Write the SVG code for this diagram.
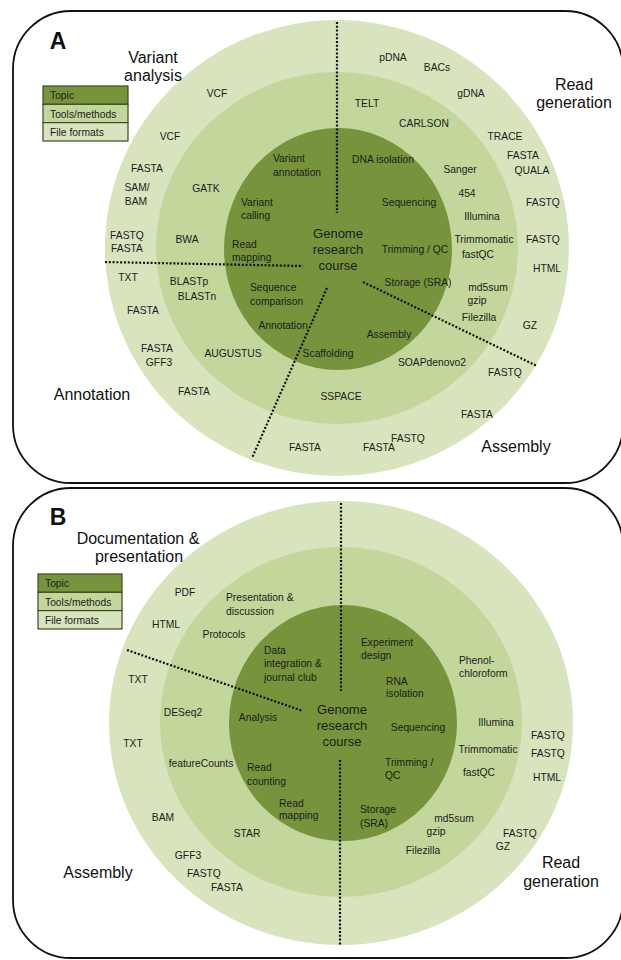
<svg xmlns="http://www.w3.org/2000/svg" width="621" height="960" viewBox="0 0 621 960">
<style>
.frame{fill:#ffffff;stroke:#111;stroke-width:1.8}
.r1{fill:#d7e4bd}
.r2{fill:#c3d69b}
.r3{fill:#77933c}
.t{font-family:"Liberation Sans",Arial,sans-serif;font-size:10.3px;fill:#1c1c1c;text-anchor:middle}
.l{text-anchor:start}
.c{font-family:"Liberation Sans",Arial,sans-serif;font-size:13px;fill:#1c1c1c;text-anchor:middle}
.big{font-family:"Liberation Sans",Arial,sans-serif;font-size:16px;fill:#111;text-anchor:middle}
.pl{font-family:"Liberation Sans",Arial,sans-serif;font-size:23px;font-weight:bold;fill:#111;text-anchor:middle}
.lg{stroke:#3d4a26;stroke-width:1.2}
.dot{fill:none;stroke:#111;stroke-width:2.2;stroke-dasharray:2 1.8}
</style>

<!-- ================= PANEL A ================= -->
<g id="panelA">
<rect id="frameA" class="frame" x="13" y="11" width="610" height="472" rx="58" ry="58"/>
<g id="ringsA">
<ellipse class="r1" cx="337" cy="248" rx="232" ry="228"/>
<ellipse class="r2" cx="337" cy="248" rx="181" ry="176"/>
<ellipse class="r3" cx="338" cy="249" rx="114" ry="121"/>
</g>
<g id="connectorsA">
<line class="dot" x1="337" y1="22" x2="337" y2="213"/>
<line class="dot" x1="105" y1="262" x2="303" y2="266"/>
<line class="dot" x1="363" y1="282" x2="537" y2="366"/>
<line class="dot" x1="327" y1="288" x2="252" y2="458"/>
</g>
<g id="labelA"><text class="pl" x="58" y="49">A</text></g>
<g id="legendA">
<rect class="lg r3" x="43" y="86" width="85" height="18.3"/>
<rect class="lg r2" x="43" y="104.3" width="85" height="18.3"/>
<rect class="lg r1" x="43" y="122.6" width="85" height="18.4"/>
<text class="t l" x="50" y="99">Topic</text>
<text class="t l" x="50" y="117.5">Tools/methods</text>
<text class="t l" x="50" y="135.5">File formats</text>
</g>
<g id="sectorsA">
<g id="A-variant-analysis"><text class="big" x="153" y="63">Variant</text><text class="big" x="153" y="81">analysis</text></g>
<g id="A-read-generation"><text class="big" x="574" y="90">Read</text><text class="big" x="574" y="108">generation</text></g>
<g id="A-annotation"><text class="big" x="92" y="400">Annotation</text></g>
<g id="A-assembly"><text class="big" x="516" y="452">Assembly</text></g>
</g>
<g id="centerA"><text class="c" x="338" y="238">Genome</text><text class="c" x="338" y="254">research</text><text class="c" x="338" y="270">course</text></g>
<g id="topicsA">
<g id="A-t-varann"><text class="t l" x="273" y="162">Variant</text><text class="t l" x="273" y="176">annotation</text></g>
<g id="A-t-dnaiso"><text class="t" x="383" y="163">DNA isolation</text></g>
<g id="A-t-varcall"><text class="t l" x="241" y="206">Variant</text><text class="t l" x="241" y="219">calling</text></g>
<g id="A-t-seq"><text class="t" x="409" y="206">Sequencing</text></g>
<g id="A-t-readmap"><text class="t l" x="232" y="248">Read</text><text class="t l" x="232" y="261">mapping</text></g>
<g id="A-t-trim"><text class="t" x="415" y="253">Trimming / QC</text></g>
<g id="A-t-storage"><text class="t" x="418" y="286">Storage (SRA)</text></g>
<g id="A-t-seqcomp"><text class="t l" x="250" y="291">Sequence</text><text class="t l" x="250" y="305">comparison</text></g>
<g id="A-t-annot"><text class="t" x="283" y="329">Annotation</text></g>
<g id="A-t-assembly"><text class="t" x="389" y="338">Assembly</text></g>
<g id="A-t-scaff"><text class="t" x="328" y="357">Scaffolding</text></g>
</g>
<g id="toolsA">
<g id="A-m-telt"><text class="t" x="367" y="107">TELT</text></g>
<g id="A-m-carlson"><text class="t" x="424" y="127">CARLSON</text></g>
<g id="A-m-sanger"><text class="t" x="460" y="173">Sanger</text></g>
<g id="A-m-454"><text class="t" x="467" y="197">454</text></g>
<g id="A-m-illumina"><text class="t" x="482" y="220">Illumina</text></g>
<g id="A-m-trimmo"><text class="t" x="484" y="243">Trimmomatic</text><text class="t" x="478" y="258">fastQC</text></g>
<g id="A-m-md5"><text class="t" x="488" y="291">md5sum</text><text class="t" x="477" y="304">gzip</text><text class="t" x="479" y="321">Filezilla</text></g>
<g id="A-m-soap"><text class="t" x="432" y="366">SOAPdenovo2</text></g>
<g id="A-m-sspace"><text class="t" x="341" y="400">SSPACE</text></g>
<g id="A-m-augustus"><text class="t" x="233" y="357">AUGUSTUS</text></g>
<g id="A-m-blast"><text class="t" x="189" y="285">BLASTp</text><text class="t" x="197" y="300">BLASTn</text></g>
<g id="A-m-bwa"><text class="t" x="187" y="243">BWA</text></g>
<g id="A-m-gatk"><text class="t" x="206" y="192">GATK</text></g>
</g>
<g id="formatsA">
<g id="A-f-1"><text class="t" x="217" y="97">VCF</text></g>
<g id="A-f-2"><text class="t" x="170" y="140">VCF</text></g>
<g id="A-f-3"><text class="t" x="147" y="172">FASTA</text></g>
<g id="A-f-4"><text class="t" x="137" y="191">SAM/</text><text class="t" x="136" y="205">BAM</text></g>
<g id="A-f-5"><text class="t" x="127" y="239">FASTQ</text><text class="t" x="127" y="252">FASTA</text></g>
<g id="A-f-6"><text class="t" x="128" y="281">TXT</text></g>
<g id="A-f-7"><text class="t" x="143" y="314">FASTA</text></g>
<g id="A-f-8"><text class="t" x="157" y="352">FASTA</text><text class="t" x="159" y="366">GFF3</text></g>
<g id="A-f-9"><text class="t" x="194" y="395">FASTA</text></g>
<g id="A-f-10"><text class="t" x="305" y="451">FASTA</text></g>
<g id="A-f-11"><text class="t" x="379" y="451">FASTA</text></g>
<g id="A-f-12"><text class="t" x="408" y="442">FASTQ</text></g>
<g id="A-f-13"><text class="t" x="477" y="418">FASTA</text></g>
<g id="A-f-14"><text class="t" x="505" y="376">FASTQ</text></g>
<g id="A-f-15"><text class="t" x="530" y="329">GZ</text></g>
<g id="A-f-16"><text class="t" x="547" y="272">HTML</text></g>
<g id="A-f-17"><text class="t" x="543" y="243">FASTQ</text></g>
<g id="A-f-18"><text class="t" x="543" y="206">FASTQ</text></g>
<g id="A-f-19"><text class="t" x="523" y="159">FASTA</text><text class="t" x="532" y="174">QUALA</text></g>
<g id="A-f-20"><text class="t" x="505" y="140">TRACE</text></g>
<g id="A-f-21"><text class="t" x="471" y="97">gDNA</text></g>
<g id="A-f-22"><text class="t" x="437" y="71">BACs</text></g>
<g id="A-f-23"><text class="t" x="393" y="61">pDNA</text></g>
</g>
</g>

<!-- ================= PANEL B ================= -->
<g id="panelB">
<rect id="frameB" class="frame" x="13" y="488" width="610" height="470" rx="58" ry="58"/>
<g id="ringsB">
<ellipse class="r1" cx="341" cy="723" rx="232" ry="222"/>
<ellipse class="r2" cx="341" cy="722" rx="181" ry="175"/>
<ellipse class="r3" cx="343" cy="723" rx="114" ry="118"/>
</g>
<g id="connectorsB">
<line class="dot" x1="341" y1="503" x2="341" y2="691"/>
<line class="dot" x1="340" y1="760" x2="340" y2="945"/>
<line class="dot" x1="127" y1="650" x2="303" y2="711"/>
</g>
<g id="labelB"><text class="pl" x="58" y="525">B</text></g>
<g id="legendB">
<rect class="lg r3" x="38" y="574" width="84" height="18.3"/>
<rect class="lg r2" x="38" y="592.3" width="84" height="18.3"/>
<rect class="lg r1" x="38" y="610.6" width="84" height="18.4"/>
<text class="t l" x="45" y="587">Topic</text>
<text class="t l" x="45" y="605.5">Tools/methods</text>
<text class="t l" x="45" y="623.5">File formats</text>
</g>
<g id="sectorsB">
<g id="B-documentation"><text class="big" x="138" y="544">Documentation &amp;</text><text class="big" x="139" y="562">presentation</text></g>
<g id="B-assembly"><text class="big" x="98" y="878">Assembly</text></g>
<g id="B-read-generation"><text class="big" x="561" y="868">Read</text><text class="big" x="561" y="887">generation</text></g>
</g>
<g id="centerB"><text class="c" x="342" y="714">Genome</text><text class="c" x="342" y="730">research</text><text class="c" x="342" y="746">course</text></g>
<g id="topicsB">
<g id="B-t-data"><text class="t l" x="264" y="654">Data</text><text class="t l" x="264" y="667">integration &amp;</text><text class="t l" x="264" y="681">journal club</text></g>
<g id="B-t-exp"><text class="t l" x="361" y="646">Experiment</text><text class="t l" x="361" y="659">design</text></g>
<g id="B-t-rna"><text class="t l" x="386" y="685">RNA</text><text class="t l" x="386" y="697">isolation</text></g>
<g id="B-t-analysis"><text class="t" x="258" y="721">Analysis</text></g>
<g id="B-t-seq"><text class="t" x="418" y="731">Sequencing</text></g>
<g id="B-t-trim"><text class="t l" x="385" y="766">Trimming /</text><text class="t l" x="385" y="779">QC</text></g>
<g id="B-t-readcount"><text class="t l" x="247" y="771">Read</text><text class="t l" x="247" y="785">counting</text></g>
<g id="B-t-readmap"><text class="t l" x="279" y="807">Read</text><text class="t l" x="279" y="819">mapping</text></g>
<g id="B-t-storage"><text class="t l" x="360" y="813">Storage</text><text class="t l" x="360" y="827">(SRA)</text></g>
</g>
<g id="toolsB">
<g id="B-m-pres"><text class="t l" x="226" y="601">Presentation &amp;</text><text class="t l" x="226" y="615">discussion</text></g>
<g id="B-m-protocols"><text class="t" x="224" y="638">Protocols</text></g>
<g id="B-m-deseq"><text class="t" x="183" y="716">DESeq2</text></g>
<g id="B-m-fc"><text class="t" x="201" y="767">featureCounts</text></g>
<g id="B-m-star"><text class="t" x="247" y="837">STAR</text></g>
<g id="B-m-phenol"><text class="t l" x="459" y="664">Phenol-</text><text class="t l" x="459" y="677">chloroform</text></g>
<g id="B-m-illumina"><text class="t" x="496" y="726">Illumina</text></g>
<g id="B-m-trimmo"><text class="t" x="488" y="753">Trimmomatic</text><text class="t" x="479" y="776">fastQC</text></g>
<g id="B-m-md5"><text class="t" x="454" y="822">md5sum</text><text class="t" x="436" y="835">gzip</text><text class="t" x="423" y="854">Filezilla</text></g>
</g>
<g id="formatsB">
<g id="B-f-1"><text class="t" x="185" y="596">PDF</text></g>
<g id="B-f-2"><text class="t" x="166" y="628">HTML</text></g>
<g id="B-f-3"><text class="t" x="138" y="683">TXT</text></g>
<g id="B-f-4"><text class="t" x="133" y="747">TXT</text></g>
<g id="B-f-5"><text class="t" x="163" y="821">BAM</text></g>
<g id="B-f-6"><text class="t" x="188" y="859">GFF3</text><text class="t" x="204" y="877">FASTQ</text><text class="t" x="227" y="891">FASTA</text></g>
<g id="B-f-7"><text class="t" x="548" y="739">FASTQ</text><text class="t" x="548" y="757">FASTQ</text><text class="t" x="547" y="781">HTML</text></g>
<g id="B-f-8"><text class="t" x="520" y="837">FASTQ</text><text class="t" x="503" y="850">GZ</text></g>
</g>
</g>
</svg>
